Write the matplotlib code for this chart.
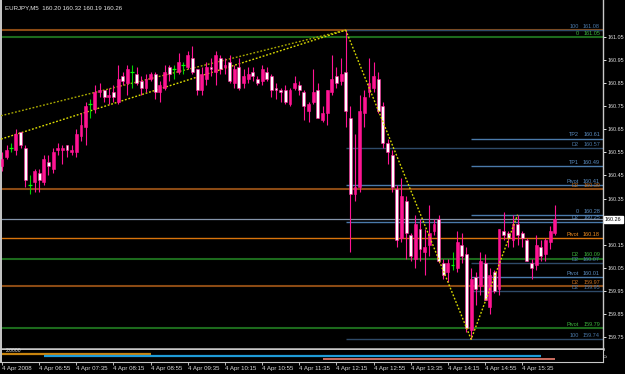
import matplotlib
matplotlib.use("Agg")
import matplotlib.pyplot as plt
from matplotlib import font_manager as fm
import numpy as np

# ---------------- data ----------------
title_text = "EURJPY,M5  160.20 160.32 160.19 160.26"

opens = [160.49, 160.53, 160.57, 160.56, 160.64, 160.57, 160.41, 160.42, 160.46, 160.42,
         160.51, 160.48, 160.56, 160.56, 160.58, 160.55, 160.55, 160.62, 160.66, 160.76,
         160.74, 160.81, 160.82, 160.79, 160.81, 160.77, 160.88, 160.85, 160.90, 160.89,
         160.86, 160.83, 160.87, 160.89, 160.81, 160.83, 160.92, 160.91, 160.90, 160.93,
         160.92, 160.96, 160.91, 160.82, 160.87, 160.92, 160.90, 160.96, 160.92, 160.94,
         160.85, 160.92, 160.85, 160.87, 160.90, 160.87, 160.86, 160.90, 160.88, 160.83,
         160.82, 160.82, 160.76, 160.83, 160.84, 160.81, 160.73, 160.77, 160.82, 160.69,
         160.72, 160.81, 160.88, 160.86, 160.90, 160.70, 160.37, 160.40, 160.72, 160.81,
         160.83, 160.87, 160.75, 160.59, 160.54, 160.39, 160.18, 160.34, 160.19, 160.09,
         160.22, 160.12, 160.15, 160.21, 160.26, 160.07, 160.03, 160.06, 160.05, 160.15,
         160.11, 159.78, 160.01, 159.97, 160.07, 159.88, 160.03, 159.96, 160.21, 160.20,
         160.17, 160.24, 160.20, 160.17, 160.07, 160.06, 160.14, 160.11, 160.16, 160.20]
highs = [160.55, 160.58, 160.59, 160.65, 160.64, 160.58, 160.45, 160.48, 160.48, 160.54,
         160.54, 160.57, 160.59, 160.58, 160.58, 160.58, 160.65, 160.72, 160.77, 160.78,
         160.84, 160.85, 160.82, 160.83, 160.84, 160.93, 160.90, 160.93, 160.93, 160.92,
         160.88, 160.89, 160.90, 160.90, 160.86, 160.93, 160.93, 160.93, 160.98, 160.94,
         160.99, 161.01, 160.91, 160.92, 160.94, 160.96, 160.99, 160.97, 160.96, 160.97,
         160.93, 160.96, 160.91, 160.92, 160.92, 160.88, 160.93, 160.92, 160.89, 160.85,
         160.83, 160.84, 160.83, 160.88, 160.86, 160.82, 160.77, 160.91, 160.85, 160.75,
         160.82, 160.97, 160.92, 160.96, 161.08, 160.75, 160.63, 160.80, 160.82, 160.96,
         160.94, 160.90, 160.77, 160.61, 160.56, 160.41, 160.44, 160.36, 160.20, 160.28,
         160.26, 160.22, 160.32, 160.26, 160.28, 160.09, 160.09, 160.12, 160.21, 160.20,
         160.14, 160.05, 160.03, 160.12, 160.11, 160.05, 160.04, 160.22, 160.29, 160.21,
         160.28, 160.28, 160.21, 160.18, 160.09, 160.19, 160.17, 160.18, 160.23, 160.32]
lows = [160.47, 160.52, 160.55, 160.54, 160.57, 160.40, 160.37, 160.38, 160.38, 160.41,
        160.45, 160.46, 160.54, 160.50, 160.53, 160.54, 160.53, 160.60, 160.58, 160.70,
        160.72, 160.79, 160.77, 160.76, 160.77, 160.76, 160.84, 160.80, 160.83, 160.84,
        160.80, 160.81, 160.86, 160.78, 160.77, 160.82, 160.86, 160.87, 160.89, 160.89,
        160.91, 160.89, 160.80, 160.80, 160.84, 160.88, 160.84, 160.89, 160.89, 160.85,
        160.83, 160.82, 160.83, 160.85, 160.86, 160.84, 160.84, 160.86, 160.79, 160.78,
        160.77, 160.76, 160.75, 160.82, 160.80, 160.69, 160.68, 160.76, 160.70, 160.68,
        160.67, 160.80, 160.83, 160.84, 160.66, 160.12, 160.34, 160.38, 160.66, 160.79,
        160.81, 160.72, 160.57, 160.50, 160.38, 160.14, 160.16, 160.09, 160.08, 160.05,
        160.08, 160.02, 160.10, 160.19, 160.07, 160.00, 159.99, 160.04, 160.03, 160.07,
        159.77, 159.74, 159.89, 159.93, 159.91, 159.85, 159.94, 159.93, 160.17, 160.14,
        160.14, 160.15, 160.14, 160.08, 160.00, 160.04, 160.08, 160.08, 160.13, 160.19]
closes = [160.52, 160.56, 160.57, 160.63, 160.58, 160.43, 160.41, 160.47, 160.43, 160.52,
          160.49, 160.55, 160.57, 160.57, 160.56, 160.56, 160.63, 160.67, 160.75, 160.76,
          160.81, 160.82, 160.79, 160.80, 160.79, 160.87, 160.86, 160.91, 160.90, 160.85,
          160.83, 160.87, 160.89, 160.81, 160.84, 160.90, 160.89, 160.91, 160.94, 160.93,
          160.97, 160.90, 160.82, 160.89, 160.92, 160.91, 160.97, 160.91, 160.93, 160.86,
          160.91, 160.83, 160.88, 160.89, 160.88, 160.85, 160.91, 160.87, 160.82, 160.82,
          160.81, 160.77, 160.82, 160.85, 160.82, 160.75, 160.76, 160.81, 160.70, 160.72,
          160.82, 160.87, 160.85, 160.89, 160.73, 160.37, 160.40, 160.73, 160.79, 160.85,
          160.88, 160.73, 160.59, 160.55, 160.40, 160.17, 160.36, 160.20, 160.10, 160.24,
          160.13, 160.14, 160.20, 160.24, 160.08, 160.02, 160.07, 160.06, 160.16, 160.10,
          159.79, 160.00, 159.96, 160.08, 159.91, 160.02, 159.95, 160.22, 160.19, 160.18,
          160.24, 160.19, 160.18, 160.08, 160.05, 160.15, 160.10, 160.17, 160.21, 160.26]

time_label_bars = [0, 8, 16, 24, 32, 40, 48, 56, 64, 72, 80, 88, 96, 104, 112]
time_labels = ["4 Apr 2008", "4 Apr 06:55", "4 Apr 07:35", "4 Apr 08:15", "4 Apr 08:55",
               "4 Apr 09:35", "4 Apr 10:15", "4 Apr 10:55", "4 Apr 11:35", "4 Apr 12:15",
               "4 Apr 12:55", "4 Apr 13:35", "4 Apr 14:15", "4 Apr 14:55", "4 Apr 15:35"]

price_ticks = [161.05, 160.95, 160.85, 160.75, 160.65, 160.55, 160.45, 160.35,
               160.15, 160.05, 159.95, 159.85, 159.75]
bid_price = 160.26

# full-width daily levels
day_prices = [161.08, 161.05, 160.39, 160.18, 160.09, 159.97, 159.79]
day_names = ["", "0", "D2", "Pivot", "D2", "D2", "Pivot"]
day_kinds = ["brown", "green", "brown", "orange", "green", "brown", "green"]

# levels starting at the spike bar
fibA_start = 74
fibA_prices = [161.08, 160.57, 160.41, 160.25, 159.74]
fibA_names = ["100", "D2", "Pivot", "D2", "100"]
fibA_kinds = ["dark", "dark", "blue", "blue", "dark"]

# levels starting at the low bar
fibB_start = 101
fibB_prices = [160.61, 160.49, 160.28, 160.07, 160.01, 159.95]
fibB_names = ["TP2", "TP1", "0", "D2", "Pivot", "D2"]
fibB_kinds = ["blue", "blue", "blue", "dark", "blue", "dark"]

zigzag_bars = [74, 101, 111]
zigzag_prices = [161.08, 159.74, 160.28]
chan_upper_bars = [30, 74]
chan_upper_prices = [160.86, 161.08]
chan_lower_bars = [30, 74]
chan_lower_prices = [160.80, 161.08]

sub_orange = ([0, 32], 1.4)
sub_cyan = ([9, 116], 0.95)
sub_salmon = ([69, 119], 0.55)
sub_label = "2.0000"

# ---------------- style ----------------
def pick_font():
    for f in ["Liberation Sans Narrow", "Liberation Sans", "DejaVu Sans"]:
        try:
            fm.findfont(fm.FontProperties(family=f), fallback_to_default=False)
            return f
        except Exception:
            pass
    return "DejaVu Sans"

FONT = pick_font()
NARROW = FONT == "Liberation Sans Narrow"
plt.rcParams["font.family"] = [FONT, "DejaVu Sans"]
FS = 4.8 if NARROW else 4.4       # general text
FS_AX = 4.6 if NARROW else 3.9    # right price axis
FS_LVL = 4.6 if NARROW else 4.0   # level labels

line_col = {"brown": "#8B4A14", "green": "#1C6A1C", "orange": "#D8740C",
            "dark": "#2E4A68", "blue": "#4A7AAA"}
text_col = {"brown": "#C8701E", "green": "#3CB43C", "orange": "#F08C1E",
            "dark": "#4A78A8", "blue": "#5A8CC0"}
line_w = {"brown": 1.5, "green": 1.5, "orange": 1.0, "dark": 1.0, "blue": 1.0}

PINK = "#FF1493"
W, H = 625, 374
px_per_bar = 4.645
x0_px = 2.0           # pixel x of bar 0
ax_left_px, ax_right_px = 1, 603
main_top_px, main_bot_px = 0, 349
y_ref_px, y_ref_price, px_per_unit = 37, 161.05, 230.8

def px2bar(px):
    return (px - x0_px) / px_per_bar

def px2price(py):
    return y_ref_price - (py - y_ref_px) / px_per_unit

fig = plt.figure(figsize=(W / 100, H / 100), dpi=100, facecolor="black")
ax = fig.add_axes([ax_left_px / W, 1 - main_bot_px / H,
                   (ax_right_px - ax_left_px) / W, (main_bot_px - main_top_px) / H])
ax.set_facecolor("black")
xl = (px2bar(ax_left_px), px2bar(ax_right_px))
ax.set_xlim(*xl)
ax.set_ylim(px2price(main_bot_px), px2price(main_top_px))

# levels
for p, n, k in zip(day_prices, day_names, day_kinds):
    ax.hlines(p, xl[0], xl[1], color=line_col[k], lw=line_w[k], zorder=1)
ax.hlines(bid_price, xl[0], xl[1], color="#8494AA", lw=0.9, zorder=1)
for p, k in zip(fibA_prices, fibA_kinds):
    ax.hlines(p, fibA_start, xl[1], color=line_col[k], lw=1.0, zorder=1.5)
for p, k in zip(fibB_prices, fibB_kinds):
    ax.hlines(p, fibB_start, xl[1], color=line_col[k], lw=1.0, zorder=1.5)

name_x, val_x = px2bar(578.5), px2bar(600)
dy = 1.2 / px_per_unit
for prices, names, kinds in [(day_prices, day_names, day_kinds),
                             (fibA_prices, fibA_names, fibA_kinds),
                             (fibB_prices, fibB_names, fibB_kinds)]:
    for p, n, k in zip(prices, names, kinds):
        if not n:
            continue
        ax.text(name_x, p + dy, n, color=text_col[k], fontsize=FS_LVL, ha="right", va="bottom", zorder=5)
        ax.text(val_x, p + dy, f"{p:.2f}", color=text_col[k], fontsize=FS_LVL, ha="right", va="bottom", zorder=5)

# channel lines (extended to the left edge)
for bars, prices, col in [(chan_upper_bars, chan_upper_prices, "#A8A800"),
                          (chan_lower_bars, chan_lower_prices, "#DCDC00")]:
    slope = (prices[1] - prices[0]) / (bars[1] - bars[0])
    xs = [xl[0], bars[1]]
    ys = [prices[0] + slope * (xl[0] - bars[0]), prices[1]]
    ax.plot(xs, ys, color=col, lw=1.0, ls=(0, (1.3, 1.3)), zorder=3)
ax.plot(zigzag_bars, zigzag_prices, color="#D8D800", lw=1.0, ls=(0, (1.3, 1.3)), zorder=6)

# candles
o = np.array(opens); h = np.array(highs); l = np.array(lows); c = np.array(closes)
idx = np.arange(len(o))
up = c > o
dn = c < o
dj = c == o
ax.vlines(idx[~dj], l[~dj], h[~dj], color=PINK, lw=0.8, zorder=4)
ax.vlines(idx[dj], l[dj], h[dj], color="#00D000", lw=0.8, zorder=4)
bw = 0.62
ax.bar(idx[up], (c - o)[up], bottom=o[up], width=bw, color=PINK, edgecolor=PINK, lw=0.4, zorder=4.5)
ax.bar(idx[dn], (o - c)[dn], bottom=c[dn], width=bw, color="white", edgecolor=PINK, lw=0.4, zorder=4.5)
ax.hlines(c[dj], idx[dj] - 0.4, idx[dj] + 0.4, color="#00FF00", lw=0.9, zorder=4.6)

# axes styling
ax.spines["top"].set_visible(False)
ax.spines["left"].set_color("#C8C8C8"); ax.spines["left"].set_linewidth(1.4)
ax.spines["right"].set_color("#C8C8C8"); ax.spines["right"].set_linewidth(1.0)
ax.spines["bottom"].set_color("#C8C8C8"); ax.spines["bottom"].set_linewidth(1.8)
ax.set_xticks([])
ax.yaxis.tick_right()
ax.set_yticks(price_ticks)
ax.set_yticklabels([f"{p:.2f}" for p in price_ticks])
ax.tick_params(axis="y", colors="#E0E0E0", labelsize=FS_AX, length=2.2, width=0.7, pad=1.0)
ax.annotate(f"{bid_price:.2f}", xy=(1, bid_price), xycoords=("axes fraction", "data"),
            xytext=(1.4, 0), textcoords="offset points", ha="left", va="center",
            fontsize=FS_AX, color="black",
            bbox=dict(boxstyle="square,pad=0.2", fc="white", ec="white"), zorder=10,
            annotation_clip=False)

fig.text(5 / W, 1 - 8 / H, title_text, color="#E8E8E8", fontsize=FS, va="center", ha="left")

# sub window
ax2 = fig.add_axes([ax_left_px / W, 1 - 362 / H, (ax_right_px - ax_left_px) / W, 12 / H])
ax2.set_facecolor("black")
ax2.set_xlim(*xl)
ax2.set_ylim(0, 2)
for (bars, val), col, lw in [(sub_orange, "#C8840E", 1.6), (sub_cyan, "#1E9CD8", 1.6),
                             (sub_salmon, "#F08070", 1.2)]:
    ax2.hlines(val, bars[0], bars[1], color=col, lw=lw)
ax2.text(px2bar(6), 1.85, sub_label, color="#E0E0E0", fontsize=FS - 0.8, va="center", ha="left")
ax2.spines["top"].set_visible(False)
for s in ["left", "right", "bottom"]:
    ax2.spines[s].set_color("#C8C8C8")
ax2.spines["left"].set_linewidth(1.4)
ax2.spines["bottom"].set_linewidth(0.8)
ax2.set_yticks([])
ax2.set_xticks(time_label_bars)
ax2.set_xticklabels(time_labels, ha="left")
ax2.tick_params(axis="x", colors="#D8D8D8", labelsize=FS, length=2.2, width=0.6, pad=1.0)
fig.text(606 / W, 1 - 356 / H, "0", rotation=90, color="#D8D8D8", fontsize=FS - 1.0,
         va="center", ha="center")

fig.savefig("out.png", dpi=100, facecolor="black")
